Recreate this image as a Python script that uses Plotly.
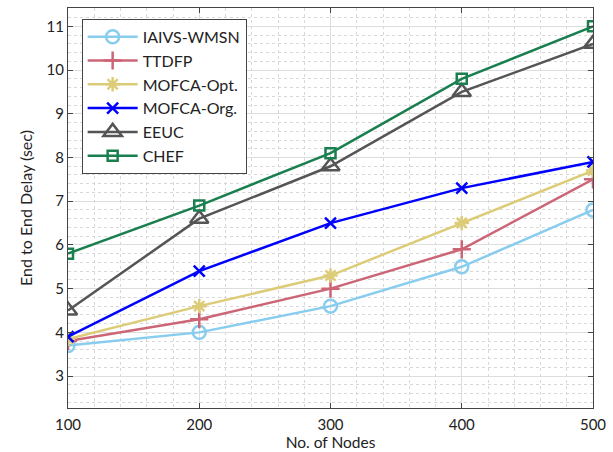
import plotly.graph_objects as go

nodes = [100, 200, 300, 400, 500]
iaivs = [3.7, 4.0, 4.6, 5.5, 6.8]
ttdfp = [3.8, 4.3, 5.0, 5.9, 7.5]
mofca_opt = [3.85, 4.6, 5.3, 6.5, 7.7]
mofca_org = [3.9, 5.4, 6.5, 7.3, 7.9]
eeuc = [4.5, 6.6, 7.8, 9.5, 10.6]
chef = [5.8, 6.9, 8.1, 9.8, 11.0]

series = [
    ("IAIVS-WMSN", iaivs, "#88CCEE", "circle-open", 13),
    ("TTDFP", ttdfp, "#CC6677", "cross-thin-open", 13),
    ("MOFCA-Opt.", mofca_opt, "#DDCC77", "asterisk-open", 12),
    ("MOFCA-Org.", mofca_org, "#0000FF", "x-thin-open", 11),
    ("EEUC", eeuc, "#555555", "triangle-up-open", 16),
    ("CHEF", chef, "#1A7F4F", "square-open", 10),
]

FONT = "Lato"
TXT = "#222222"
fig = go.Figure()
for name, vals, col, sym, sz in series:
    fig.add_trace(go.Scatter(
        x=nodes, y=vals, name=name, mode="lines+markers",
        line=dict(color=col, width=2.5),
        marker=dict(symbol=sym, size=sz, color=col, line=dict(width=2.5, color=col)),
    ))

axis_common = dict(
    showline=True, linecolor="#444444", linewidth=1, mirror="ticks",
    ticks="inside", ticklen=5, tickcolor="#444444",
    showgrid=True, gridcolor="#DDDDDD", gridwidth=1,
    zeroline=False,
    tickfont=dict(family=FONT, size=15, color=TXT),
)

fig.update_xaxes(
    range=[100, 500], tickvals=[100, 200, 300, 400, 500],
    ticklabelstandoff=3,
    minor=dict(dtick=20, showgrid=True, gridcolor="#D8D8D8", griddash="dot", ticks=""),
    title=dict(text="No. of Nodes", font=dict(family=FONT, size=15.5, color=TXT), standoff=1),
    **axis_common,
)
fig.update_yaxes(
    range=[2.27, 11.42], tickvals=[3, 4, 5, 6, 7, 8, 9, 10, 11],
    minor=dict(dtick=0.2, tick0=3, showgrid=True, gridcolor="#D8D8D8", griddash="dot", ticks=""),
    title=dict(text="End to End Delay (sec)", font=dict(family=FONT, size=16, color=TXT), standoff=9),
    **axis_common,
)

fig.update_layout(
    width=613, height=452,
    margin=dict(l=68, r=15, t=7, b=34),
    plot_bgcolor="white", paper_bgcolor="white",
    legend=dict(
        x=0.026, y=0.973, xanchor="left", yanchor="top",
        bgcolor="white", bordercolor="#444444", borderwidth=1,
        font=dict(family=FONT, size=16, color=TXT),
        itemwidth=50,
    ),
)
fig.write_html("out.html")
